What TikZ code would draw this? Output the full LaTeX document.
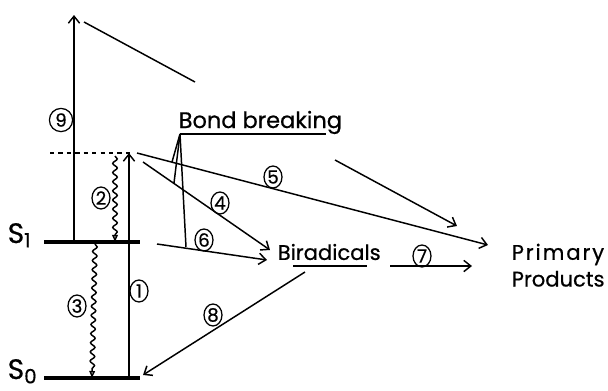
\documentclass[tikz,border=0pt]{standalone}
\usepackage{fontspec}
\setmainfont{Poppins}[FakeBold=0.6]
\usetikzlibrary{arrows.meta,decorations.pathmorphing,shapes.geometric,positioning,calc}

\begin{document}
\begin{tikzpicture}[x=0.025cm,y=-0.025cm,line width=1.05pt,
  level/.style={line width=2.4pt},
  trans/.style={-{Straight Barb[length=5pt,width=8pt]}},
  wavy/.style={decorate,decoration={snake,amplitude=1.6pt,segment length=6.5pt,post length=5pt},
    -{Triangle[open,length=5pt,width=4pt]}},
  num/.style={ellipse,draw,line width=0.9pt,inner sep=0pt,minimum width=0.45cm,minimum height=0.55cm,
    font=\fontsize{13}{15}\selectfont},
  lbl/.style={font=\fontsize{15}{19}\selectfont}]
  \useasboundingbox (0,0) rectangle (608,390);
  % energy levels
  \coordinate (s1w) at (44,242);  \coordinate (s1e) at (140,242);
  \coordinate (s0w) at (44,378);  \coordinate (s0e) at (140,378);
  \coordinate (vw) at (50,153);   \coordinate (ve) at (134,153);
  \draw[level] (s1w) -- (s1e);
  \draw[level] (s0w) -- (s0e);
  \draw[dashed] (vw) -- (ve);
  \node[lbl,anchor=base west,inner sep=0pt,font=\fontsize{20}{22}\selectfont] (s1) at (7,243) {S\textsubscript{1}};
  \node[lbl,anchor=base west,inner sep=0pt,font=\fontsize{20}{22}\selectfont] (s0) at (7,379) {S\textsubscript{0}};
  % vertical transitions
  \coordinate (a9s) at (74,242);  \coordinate (a9e) at (74,15);
  \coordinate (a1s) at (129,378); \coordinate (a1e) at (129,153);
  \coordinate (w2s) at (115,156); \coordinate (w2e) at (115,242);
  \coordinate (w3s) at (95,244);  \coordinate (w3e) at (92,378);
  \draw[trans] (a9s) -- (a9e);
  \draw[trans] (a1s) -- (a1e);
  \draw[wavy] (w2s) -- (w2e);
  \draw[wavy] (w3s) -- (w3e);
  \node[num,minimum width=0.58cm,minimum height=0.58cm] (n9) at (61,120) {9};
  \node[num] (n1) at (139,291) {1};
  \node[num] (n2) at (101,198) {2};
  \node[num] (n3) at (77,306) {3};
  % products
  \node[lbl,anchor=base west,inner sep=0pt,font=\fontsize{16}{19}\selectfont] (bond) at (178,128) {Bond breaking};
  \node[lbl,anchor=west,inner sep=0pt] (birad) at (277,252) {Biradicals};
  \node[lbl,align=left,anchor=north west,inner sep=0pt] (prim) at (511,243)
    {{\addfontfeature{LetterSpace=9}Primary}\\Products};
  \coordinate (bu1) at (180,134); \coordinate (bu2) at (326,134);
  \coordinate (ru1) at (293,266); \coordinate (ru2) at (367,266);
  \draw (bu1) -- (bu2);
  \draw (ru1) -- (ru2);
  % reaction paths
  \coordinate (p5s) at (137,153); \coordinate (p5e) at (488,245);
  \coordinate (p4s) at (143,162); \coordinate (p4e) at (270,250);
  \coordinate (p6s) at (157,244); \coordinate (p6e) at (267,260);
  \coordinate (p8s) at (305,272); \coordinate (p8e) at (143,375);
  \coordinate (p7s) at (390,266); \coordinate (p7e) at (472,266);
  \draw[trans] (p5s) -- (p5e);
  \draw[trans] (p4s) -- (p4e);
  \draw[trans] (p6s) -- (p6e);
  \draw[trans] (p8s) -- (p8e);
  \draw[trans] (p7s) -- (p7e);
  \node[num] (n5) at (273,177) {5};
  \node[num] (n4) at (220,203) {4};
  \node[num] (n6) at (204,240) {6};
  \node[num] (n8) at (213,315) {8};
  \node[num] (n7) at (422,256) {7};
  % bond breaking pointers
  \draw (bu1) -- (172,162);
  \draw (bu1) -- (174,183);
  \draw (bu1) -- (186,247);
  % long path from top of 9
  \coordinate (t1) at (84,22);   \coordinate (t2) at (195,82);
  \coordinate (t3) at (335,160); \coordinate (t4) at (457,226);
  \draw (t1) -- (t2);
  \draw[trans] (t3) -- (t4);
\end{tikzpicture}
\end{document}
